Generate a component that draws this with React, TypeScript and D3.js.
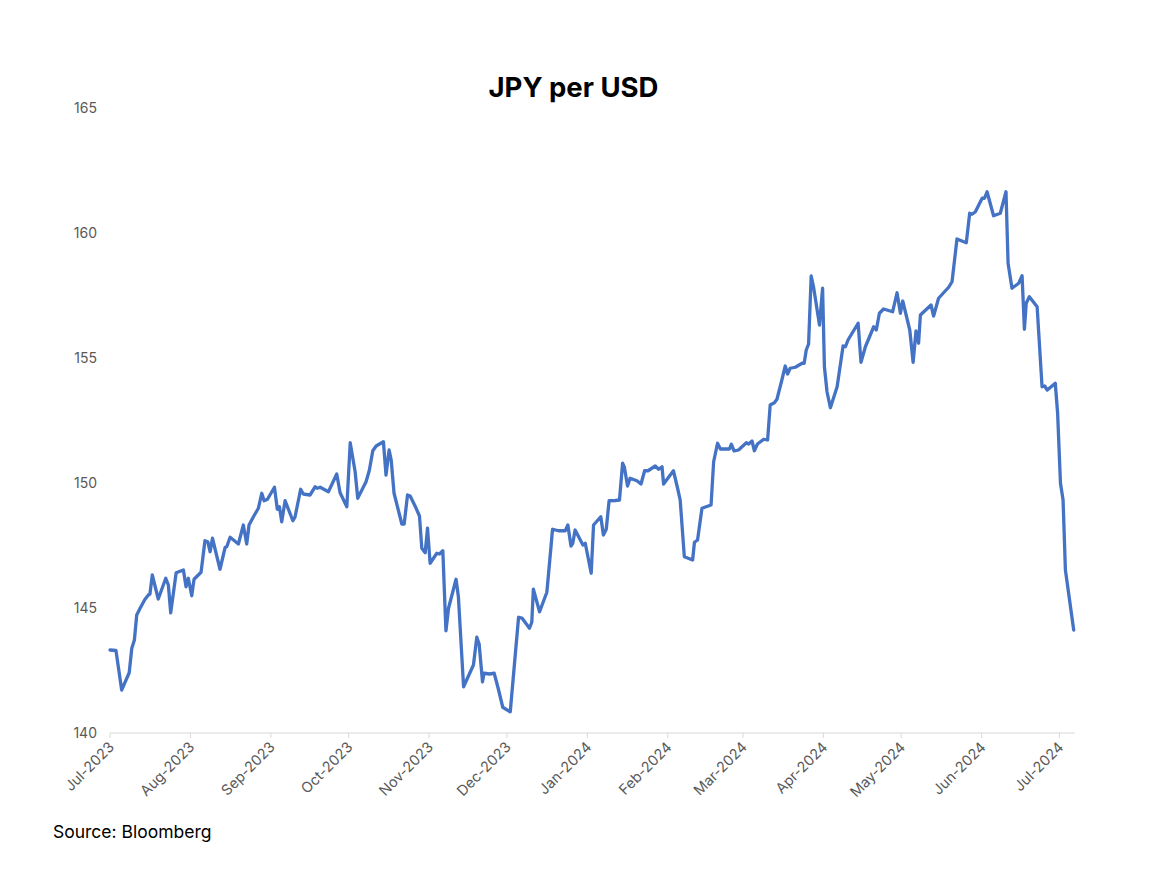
import React from "react";
import * as d3 from "d3";

// Days since 2023-07-01 and JPY per USD values
const dayOffsets = [
  0, 2.3, 4.5, 7.4, 8.4, 9.4, 10.3, 11.6, 13.5, 14.8, 15.4, 16.3, 18.6, 21.5, 22.5, 23.4, 25.5, 28.3, 29.3, 30.2,
  31.5, 32.4, 35.1, 36.6, 37.7, 38.6, 39.5, 42.4, 44.4, 45, 46.3, 49.5, 51.4, 52.7, 53.6, 55.3, 57.2, 58.5, 59.4, 60.7,
  63.4, 64.5, 65.3, 66.2, 67.5, 70.5, 71.3, 73.5, 74.5, 77.1, 79.1, 79.9, 81, 84.2, 87.4, 88.7, 91.3, 92.6, 94.5, 95.5,
  98.7, 100, 101.3, 102.6, 105.4, 106.4, 107.6, 108.4, 109.5, 112.5, 113.4, 114.7, 115.7, 117.6, 119.3, 120.2, 121.5, 122.4, 123.4, 126,
  127, 128.3, 129.5, 130.5, 133.4, 134.3, 136.3, 140.1, 141.4, 142.3, 143.6, 144.2, 146.3, 148.1, 149.8, 151.4, 154.3, 157.5, 158.8, 161.7,
  162.6, 163.2, 165.6, 168.4, 169.3, 170.6, 172.9, 175.5, 176.5, 177.7, 178.4, 179.3, 182.3, 183.2, 185.5, 186.4, 189.2, 190.2, 191.3, 192.4,
  194.8, 196.4, 197.6, 198.3, 199.5, 200.5, 203.1, 204.7, 206.1, 207.4, 210.2, 211.5, 212.8, 213.4, 217.2, 218.8, 219.8, 221.4, 224.6, 225.3,
  226.5, 228.2, 231.7, 232.7, 234.2, 235.3, 238.8, 239.5, 240.6, 242.3, 245.3, 246.2, 247.5, 248.4, 249.6, 252, 253.5, 254.5, 256.1, 257.1,
  259, 260.3, 261.2, 262.2, 264.2, 266.8, 267.6, 268.4, 269.3, 270.3, 271.2, 273.5, 274.7, 275.4, 276.4, 277.7, 280.3, 282.6, 283.5, 284.5,
  288.4, 289.5, 291.2, 294.4, 295.4, 296.6, 298.2, 301.7, 303.4, 304.7, 305.6, 308.3, 309.6, 310.7, 311.7, 312.4, 316.5, 317.5, 319.4, 323.3,
  324.6, 326.5, 330.1, 331.4, 332.3, 333.6, 336.2, 337.1, 338.1, 340.6, 343.2, 345.4, 346.2, 347.7, 350.3, 351.6, 352.5, 353.2, 354.4, 357.4,
  359.3, 360.3, 361.3, 364.4, 365.3, 366.4, 367.4, 368.3, 371.5,
];

const jpyPerUsd = [
  143.32, 143.3, 141.72, 142.41, 143.39, 143.72, 144.72, 144.99, 145.35, 145.52, 145.56, 146.32, 145.36, 146.19, 145.92, 144.81, 146.41, 146.52, 145.85, 146.19,
  145.49, 146.15, 146.43, 147.69, 147.65, 147.25, 147.79, 146.55, 147.43, 147.45, 147.83, 147.56, 148.32, 147.56, 148.32, 148.65, 148.99, 149.59, 149.29, 149.35,
  149.83, 148.95, 149.05, 148.45, 149.29, 148.49, 148.63, 149.75, 149.56, 149.52, 149.85, 149.79, 149.83, 149.65, 150.36, 149.61, 149.05, 151.61, 150.45, 149.39,
  150.05, 150.52, 151.29, 151.48, 151.65, 150.32, 151.32, 150.92, 149.59, 148.36, 148.36, 149.52, 149.48, 149.08, 148.68, 147.39, 147.21, 148.19, 146.79, 147.19,
  147.16, 147.29, 144.09, 144.99, 146.15, 145.45, 141.85, 142.72, 143.83, 143.56, 142.05, 142.39, 142.36, 142.39, 141.72, 141.03, 140.85, 144.63, 144.6, 144.19,
  144.43, 145.75, 144.85, 145.63, 146.65, 148.15, 148.09, 148.09, 148.32, 147.48, 147.59, 148.12, 147.52, 147.59, 146.39, 148.32, 148.65, 147.92, 148.15, 149.29,
  149.3, 149.32, 150.79, 150.63, 149.88, 150.19, 150.09, 149.96, 150.49, 150.49, 150.68, 150.55, 150.65, 149.96, 150.49, 149.79, 149.32, 147.05, 146.92, 147.63,
  147.72, 148.99, 149.12, 150.85, 151.59, 151.36, 151.36, 151.55, 151.28, 151.32, 151.61, 151.56, 151.68, 151.29, 151.56, 151.75, 151.72, 153.12, 153.21, 153.35,
  154.12, 154.68, 154.36, 154.59, 154.63, 154.79, 154.79, 155.32, 155.56, 158.28, 157.85, 156.32, 157.79, 154.65, 153.65, 153.01, 153.85, 155.48, 155.45, 155.72,
  156.39, 154.83, 155.45, 156.25, 156.12, 156.79, 156.96, 156.85, 157.61, 156.79, 157.28, 156.12, 154.83, 156.08, 155.59, 156.72, 157.12, 156.68, 157.39, 157.83,
  158.05, 159.76, 159.61, 160.79, 160.75, 160.85, 161.39, 161.39, 161.65, 160.69, 160.79, 161.65, 158.79, 157.79, 157.99, 158.29, 156.15, 157.19, 157.45, 157.05,
  153.85, 153.88, 153.72, 153.99, 152.79, 149.99, 149.32, 146.52, 144.12,
];

const yTicks = [140, 145, 150, 155, 160, 165];
const monthTickLabels = [
  "Jul-2023", "Aug-2023", "Sep-2023", "Oct-2023", "Nov-2023", "Dec-2023",
  "Jan-2024", "Feb-2024", "Mar-2024", "Apr-2024", "May-2024", "Jun-2024", "Jul-2024",
];

const TITLE = "JPY per USD";
const SOURCE = "Source: Bloomberg";

const W = 1155;
const H = 893;
const start = new Date(2023, 6, 1);
const end = d3.timeDay.offset(start, 372);

export default function App() {
  const x = d3.scaleTime().domain([start, end]).range([110, 1075]);
  const y = d3.scaleLinear().domain([140, 165]).range([733, 108]);

  const data = dayOffsets.map((d, i) => ({
    date: new Date(start.getTime() + d * 86400000),
    v: jpyPerUsd[i],
  }));

  const line = d3
    .line<{ date: Date; v: number }>()
    .x((d) => x(d.date))
    .y((d) => y(d.v));

  const monthTicks = monthTickLabels.map((_, i) => d3.timeMonth.offset(start, i));
  const fmt = d3.timeFormat("%b-%Y");
  const font = "Inter, 'Noto Sans', sans-serif";

  return (
    <svg
      width={W}
      height={H}
      style={{ position: "absolute", left: 0, top: 0, background: "#fff" }}
      fontFamily={font}
    >
      <rect x={0} y={0} width={W} height={H} fill="#fff" />
      <text x={573.5} y={97} textAnchor="middle" fontSize={27.5} fontWeight={700} fill="#000">
        {TITLE}
      </text>

      {/* y axis labels */}
      {yTicks.map((t) => (
        <text
          key={t}
          x={97}
          y={y(t)}
          dy="0.35em"
          textAnchor="end"
          fontSize={14}
          fill="#595959"
        >
          {t}
        </text>
      ))}

      {/* x axis */}
      <line x1={110} x2={1075} y1={733} y2={733} stroke="#d9d9d9" strokeWidth={1} />
      {monthTicks.map((t, i) => {
        const px = x(t);
        return (
          <g key={i} transform={`translate(${px},733)`}>
            <line y1={0} y2={5} stroke="#d9d9d9" strokeWidth={1} />
            <text
              transform="translate(5,15) rotate(-45)"
              textAnchor="end"
              fontSize={14.5}
              fill="#595959"
            >
              {fmt(t)}
            </text>
          </g>
        );
      })}

      <path
        d={line(data) || ""}
        fill="none"
        stroke="#4472C4"
        strokeWidth={3.3}
        strokeLinejoin="round"
        strokeLinecap="round"
      />

      <text x={53} y={838} fontSize={17.5} fill="#000">
        {SOURCE}
      </text>
    </svg>
  );
}
